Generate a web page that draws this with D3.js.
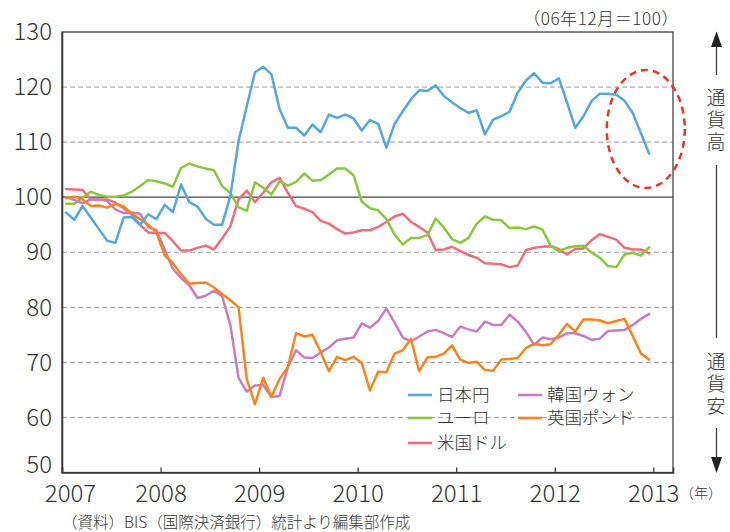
<!DOCTYPE html>
<html><head><meta charset="utf-8">
<script src="https://cdn.jsdelivr.net/npm/d3@7"></script>
<style>
html,body{margin:0;padding:0;background:#fff;}
svg{display:block;}
text{font-family:"Noto Sans CJK JP","Noto Sans",sans-serif;fill:#333;font-weight:300;}
</style></head>
<body>
<svg id="chart" width="730" height="532"></svg>
<script>
// ---- data (monthly, Jan 2007 – Dec 2012; Dec 2006 = 100) ----
const startYear = 2007;
const years = [2007, 2008, 2009, 2010, 2011, 2012, 2013];
const yTicks = [50, 60, 70, 80, 90, 100, 110, 120, 130];
const gridValues = [60, 70, 80, 90, 110, 120];
const seriesNames = ["日本円", "ユーロ", "米国ドル", "韓国ウォン", "英国ポンド"];

const jpy = [97.2,95.9,98.4,96.3,94.2,92.1,91.7,96.3,96.4,95.0,96.9,96.0,
  98.6,97.3,102.3,99.1,98.3,96.1,95.0,95.0,100.2,110.2,116.5,122.7,
  123.7,122.3,116.0,112.6,112.6,111.2,113.2,111.8,115.0,114.4,115.0,114.3,
  112.1,114.0,113.3,109.0,113.3,115.6,117.8,119.4,119.3,120.3,118.4,117.2,
  116.2,115.3,115.8,111.4,114.1,114.7,115.5,119.0,121.2,122.5,120.8,120.7,
  121.6,117.2,112.6,114.7,117.5,118.8,118.8,118.6,117.5,115.3,111.6,107.9];
const eur = [98.8,98.8,99.9,101.0,100.4,100.1,100.1,100.3,101.0,102.0,103.1,102.9,
  102.5,101.9,105.3,106.1,105.6,105.2,104.9,102.0,100.8,98.2,97.5,102.7,
  101.7,100.5,102.9,102.1,102.8,104.3,103.0,103.1,104.1,105.2,105.2,104.0,
  99.2,98.0,97.6,96.0,93.2,91.4,92.6,92.6,93.1,96.1,94.5,92.4,
  91.7,92.6,95.2,96.5,95.9,95.8,94.4,94.5,94.2,94.7,94.1,91.2,
  90.2,90.8,91.1,91.2,89.9,89.0,87.5,87.3,89.6,89.9,89.4,90.9];
const usd = [101.5,101.4,101.3,99.6,99.6,99.6,99.0,98.0,96.8,95.0,93.6,93.5,
  93.5,92.0,90.3,90.3,90.8,91.2,90.5,92.5,94.7,99.6,101.2,99.1,
  100.8,102.7,103.5,100.8,98.4,97.9,97.3,95.7,95.2,94.2,93.4,93.6,
  94.0,94.0,94.6,95.5,96.5,97.0,95.5,94.6,93.6,90.4,90.5,91.0,
  90.2,89.5,89.0,88.0,87.9,87.8,87.3,87.6,90.4,90.8,91.0,91.1,
  90.6,89.6,90.6,90.7,92.2,93.3,92.8,92.3,90.8,90.5,90.5,89.8];
const krw = [100.0,99.5,98.9,99.6,99.6,99.3,97.8,97.1,97.2,97.0,94.6,94.0,
  90.5,87.0,85.3,84.0,81.7,82.1,83.0,82.0,76.8,67.2,64.7,65.8,
  65.9,63.7,63.9,69.1,72.2,70.9,70.8,71.8,72.7,74.0,74.3,74.5,
  77.1,76.3,77.5,79.8,77.2,74.5,73.8,74.7,75.6,75.9,75.3,74.6,
  76.5,76.0,75.6,77.4,76.8,76.8,78.7,77.4,75.5,73.2,74.5,74.2,
  74.5,75.3,75.3,74.8,74.1,74.3,75.7,75.8,75.9,76.8,77.9,78.8];
const gbp = [99.8,100.1,99.6,98.4,98.5,98.1,98.8,98.3,97.0,96.0,95.0,93.6,
  89.5,88.0,86.0,84.3,84.4,84.5,83.6,82.4,81.3,80.0,67.0,62.4,
  67.2,63.7,67.0,69.1,75.3,74.7,75.0,71.9,68.4,71.0,70.4,71.0,
  69.9,64.9,68.3,68.2,71.6,72.2,74.3,68.4,70.9,71.0,71.6,73.1,
  70.5,69.9,70.1,68.6,68.5,70.5,70.6,70.8,72.6,73.4,73.1,73.3,
  75.0,77.0,75.6,77.8,77.8,77.6,77.1,77.5,77.9,74.8,71.6,70.5];

const seriesValues = [jpy, eur, usd, krw, gbp];
const colors = ["#55a8dd", "#8cc540", "#ef6c7e", "#c87dbd", "#f7841d"];
const drawOrder = [2, 1, 3, 4, 0];

// ---- layout ----
const svg = d3.select("#chart");
const L = 62, R = 673, T = 32, B = 472.5;
const x = d3.scaleLinear().domain([2007, 2013.2]).range([L, R]);
const y = d3.scaleLinear().domain([50, 130]).range([B, T]);
const monthX = i => x(startYear + (i + 0.5) / 12);

// grid lines
svg.append("g").selectAll("line").data(gridValues).join("line")
  .attr("x1", L).attr("x2", R)
  .attr("y1", d => y(d)).attr("y2", d => y(d))
  .attr("stroke", "#9a9a9a").attr("stroke-width", 1)
  .attr("stroke-dasharray", "5,3");
// 100 baseline
svg.append("line").attr("x1", L).attr("x2", R)
  .attr("y1", y(100)).attr("y2", y(100))
  .attr("stroke", "#444").attr("stroke-width", 1.2);

// frame
svg.append("rect").attr("x", L).attr("y", T).attr("width", R - L).attr("height", B - T)
  .attr("fill", "none").attr("stroke", "#444").attr("stroke-width", 1.3);

// x axis
const xAxis = svg.append("g").attr("transform", `translate(0,${B})`)
  .call(d3.axisBottom(x).tickValues(years).tickSize(-5).tickFormat(d3.format("d")));
xAxis.select(".domain").attr("stroke", "#333").attr("stroke-width", 1.5);
xAxis.selectAll(".tick line").attr("stroke", "#333").attr("stroke-width", 1.2);
xAxis.selectAll(".tick text")
  .attr("y", 29.5).attr("dy", 0)
  .attr("dx", d => d === 2007 ? 8 : 0)
  .style("font-size", "24px").style("font-family", "'Noto Sans CJK JP',sans-serif")
  .style("font-weight", 300)
  .attr("fill", "#333");
svg.append("text").attr("x", 680).attr("y", 498)
  .style("font-size", "14px").text("（年）");

// y axis
const yAxis = svg.append("g").attr("transform", `translate(${L},0)`)
  .call(d3.axisLeft(y).tickValues(yTicks).tickSize(0).tickPadding(10));
yAxis.select(".domain").attr("stroke", "#333").attr("stroke-width", 1.5);
yAxis.selectAll(".tick text")
  .attr("y", d => d === 50 ? -7.5 : 0)
  .style("font-size", "24px").style("font-family", "'Noto Sans CJK JP',sans-serif")
  .style("font-weight", 300)
  .attr("fill", "#333");

// lines
const line = d3.line().x((d, i) => monthX(i)).y(d => y(d));
svg.append("g").selectAll("path").data(drawOrder).join("path")
  .attr("d", k => line(seriesValues[k]))
  .attr("fill", "none")
  .attr("stroke", k => colors[k])
  .attr("stroke-width", 2.5)
  .attr("stroke-linejoin", "round")
  .attr("stroke-linecap", "round");

// dashed ellipse highlight
svg.append("ellipse").attr("cx", 645.8).attr("cy", 129).attr("rx", 39).attr("ry", 59)
  .attr("fill", "none").attr("stroke", "#e8352c").attr("stroke-width", 2.5)
  .attr("stroke-dasharray", "7,5");

// unit note
svg.append("text").attr("x", 679).attr("y", 25).attr("text-anchor", "end")
  .style("font-size", "17px").style("letter-spacing", "0.6px").text("（06年12月＝100）");

// legend
const legendPos = [[408, 395], [408, 418], [408, 443], [518, 395], [518, 418]];
const lg = svg.append("g").selectAll("g").data(seriesNames).join("g")
  .attr("transform", (d, i) => `translate(${legendPos[i][0]},${legendPos[i][1]})`);
lg.append("line").attr("x1", 0).attr("x2", 24).attr("y1", 0).attr("y2", 0)
  .attr("stroke", (d, i) => colors[i]).attr("stroke-width", 2.6);
lg.append("text").attr("x", 29).attr("y", 0).attr("dy", "0.35em")
  .style("font-size", "17.5px").text(d => d);

// right-side direction indicator
const ax = 716.5;
const ann = svg.append("g").attr("stroke", "#333").attr("stroke-width", 1.2);
ann.append("line").attr("x1", ax).attr("x2", ax).attr("y1", 46).attr("y2", 75);
ann.append("line").attr("x1", ax).attr("x2", ax).attr("y1", 165).attr("y2", 338);
ann.append("line").attr("x1", ax).attr("x2", ax).attr("y1", 428).attr("y2", 458);
svg.append("path").attr("d", `M${ax},31.5 L${ax-5.5},47 L${ax+5.5},47 Z`).attr("fill", "#222");
svg.append("path").attr("d", `M${ax},473 L${ax-5.5},457 L${ax+5.5},457 Z`).attr("fill", "#222");
const vLabels = [{t: "通貨高", y: 88}, {t: "通貨安", y: 352}];
svg.append("g").selectAll("text").data(vLabels).join("text")
  .attr("x", ax - 0.5).attr("y", d => d.y)
  .style("writing-mode", "vertical-rl")
  .style("letter-spacing", "3px")
  .style("font-size", "19px")
  .text(d => d.t);

// source
svg.append("text").attr("x", 62).attr("y", 528)
  .style("font-size", "15.5px").text("（資料）BIS（国際決済銀行）統計より編集部作成");
</script>
</body></html>
